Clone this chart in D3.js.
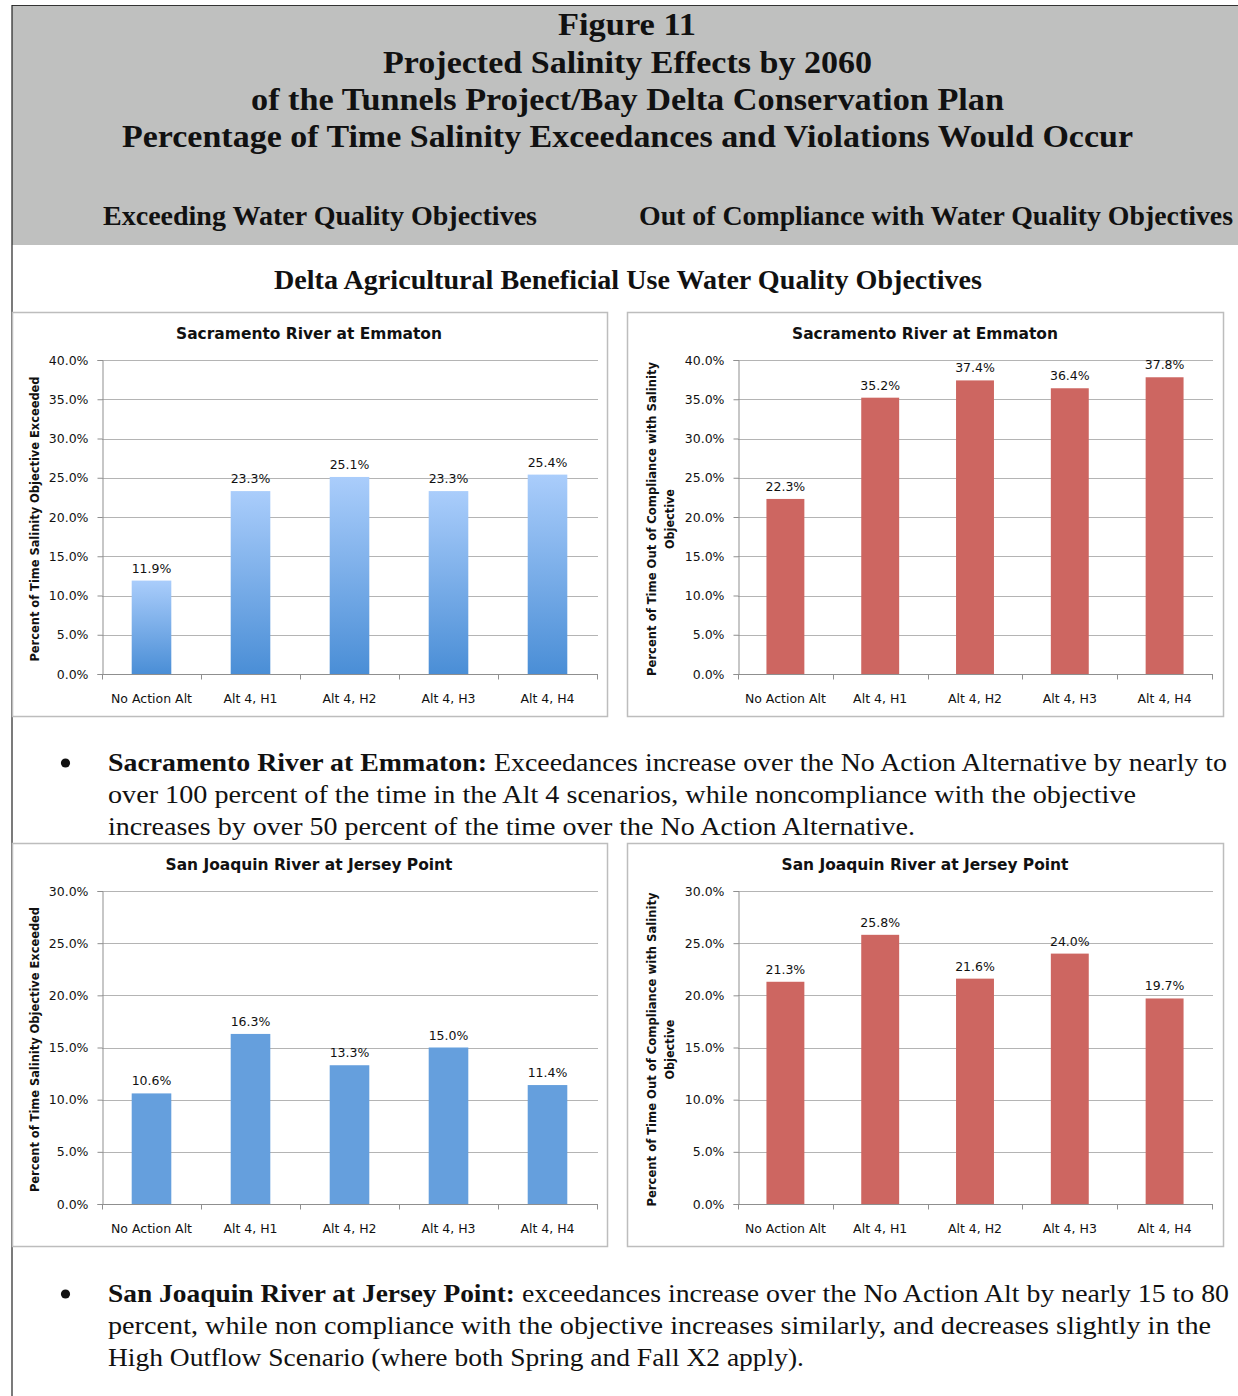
<!DOCTYPE html>
<html>
<head>
<meta charset="utf-8">
<script src="https://cdn.jsdelivr.net/npm/d3@7"></script>
<style>
  html, body { margin: 0; padding: 0; background: #fff; }
  svg { display: block; }
</style>
</head>
<body>
<svg id="chart" width="1238" height="1396"></svg>
<script>
// ---------------- DATA ----------------
const categories = ["No Action Alt", "Alt 4, H1", "Alt 4, H2", "Alt 4, H3", "Alt 4, H4"];
const sacramentoExceed = [11.9, 23.3, 25.1, 23.3, 25.4];
const sacramentoNoncomp = [22.3, 35.2, 37.4, 36.4, 37.8];
const sanJoaquinExceed = [10.6, 16.3, 13.3, 15.0, 11.4];
const sanJoaquinNoncomp = [21.3, 25.8, 21.6, 24.0, 19.7];
const sacramentoTicks = [0, 5, 10, 15, 20, 25, 30, 35, 40];
const sanJoaquinTicks = [0, 5, 10, 15, 20, 25, 30];

const headerLines = [
  "Figure 11",
  "Projected Salinity Effects by 2060",
  "of the Tunnels Project/Bay Delta Conservation Plan",
  "Percentage of Time Salinity Exceedances and Violations Would Occur"
];
const subHeaders = ["Exceeding Water Quality Objectives", "Out of Compliance with Water Quality Objectives"];
const sectionTitle = "Delta Agricultural Beneficial Use Water Quality Objectives";
const bullet1 = {
  bold: "Sacramento River at Emmaton:",
  lines: [
    "Exceedances increase over the No Action Alternative by nearly to",
    "over 100 percent of the time in the Alt 4 scenarios, while noncompliance with the objective",
    "increases by over 50 percent of the time over the No Action Alternative."
  ]
};
const bullet2 = {
  bold: "San Joaquin River at Jersey Point:",
  lines: [
    "exceedances increase over the No Action Alt by nearly 15 to 80",
    "percent, while non compliance with the objective increases similarly, and decreases slightly in the",
    "High Outflow Scenario (where both Spring and Fall X2 apply)."
  ]
};

// ---------------- SETUP ----------------
const svg = d3.select("#chart");
const SERIF = "'Liberation Serif', 'DejaVu Serif', serif";
const SANS = "'DejaVu Sans', 'Liberation Sans', sans-serif";

const defs = svg.append("defs");
const grad = defs.append("linearGradient")
  .attr("id", "blueGrad").attr("x1", 0).attr("y1", 0).attr("x2", 0).attr("y2", 1);
grad.append("stop").attr("offset", "0%").attr("stop-color", "#aacdfb");
grad.append("stop").attr("offset", "100%").attr("stop-color", "#4a8ed6");

function fitText(sel, w) {
  sel.attr("textLength", w).attr("lengthAdjust", "spacingAndGlyphs");
  return sel;
}

// ---------------- HEADER ----------------
svg.append("rect").attr("x", 12).attr("y", 5).attr("width", 1226).attr("height", 240)
  .attr("fill", "#bfc0bf");
svg.append("line").attr("x1", 12).attr("x2", 1238).attr("y1", 5.5).attr("y2", 5.5)
  .attr("stroke", "#333").attr("stroke-width", 1);
// page frame left line
svg.append("line").attr("x1", 12).attr("x2", 12).attr("y1", 5).attr("y2", 1396)
  .attr("stroke", "#222").attr("stroke-width", 1.2);

const headerY = [24, 62, 99, 136];
const headerW = [138, 489, 753, 1011];
const headerX = [627, 627.5, 627.5, 627.5];
headerLines.forEach((t, i) => {
  fitText(svg.append("text")
    .attr("x", headerX[i]).attr("y", headerY[i]).attr("dy", "0.35em")
    .attr("text-anchor", "middle")
    .attr("font-family", SERIF).attr("font-weight", "bold").attr("font-size", 32)
    .attr("fill", "#111").text(t), headerW[i]);
});
const subX = [320, 936], subW = [434, 594];
subHeaders.forEach((t, i) => {
  fitText(svg.append("text")
    .attr("x", subX[i]).attr("y", 216).attr("dy", "0.35em")
    .attr("text-anchor", "middle")
    .attr("font-family", SERIF).attr("font-weight", "bold").attr("font-size", 26.5)
    .attr("fill", "#111").text(t), subW[i]);
});

fitText(svg.append("text")
  .attr("x", 628).attr("y", 280).attr("dy", "0.35em")
  .attr("text-anchor", "middle")
  .attr("font-family", SERIF).attr("font-weight", "bold").attr("font-size", 26.5)
  .attr("fill", "#111").text(sectionTitle), 708);

// ---------------- CHARTS ----------------
function drawChart(cfg) {
  const g = svg.append("g");
  // panel frame
  g.append("rect").attr("x", cfg.box[0] + 0.5).attr("y", cfg.box[1] + 0.5)
    .attr("width", cfg.box[2]).attr("height", cfg.box[3])
    .attr("fill", "#fff").attr("stroke", "#bdbdbd").attr("stroke-width", 1.5);

  const y = d3.scaleLinear().domain([0, d3.max(cfg.ticks)]).range([cfg.bottom, cfg.top]);
  const x = d3.scaleBand().domain(categories).range([cfg.left, cfg.right])
    .paddingInner(0.6).paddingOuter(0.3);

  // gridlines
  g.append("g").selectAll("line").data(cfg.ticks.filter(d => d > 0)).join("line")
    .attr("x1", cfg.left).attr("x2", cfg.right + 1)
    .attr("y1", d => Math.round(y(d)) + 0.5).attr("y2", d => Math.round(y(d)) + 0.5)
    .attr("stroke", "#b4b4b4").attr("stroke-width", 1);

  // y axis
  const yAxis = d3.axisLeft(y).tickValues(cfg.ticks).tickSize(5).tickPadding(9)
    .tickFormat(d => d3.format(".1f")(d) + "%");
  const ya = g.append("g").attr("transform", `translate(${cfg.left + 0.5},0)`).call(yAxis);
  ya.select(".domain").attr("stroke", "#8f8f8f");
  ya.selectAll(".tick line").attr("stroke", "#8f8f8f");
  ya.selectAll(".tick text").attr("font-family", SANS).attr("font-size", 12.5).attr("fill", "#111");

  // bars
  g.append("g").selectAll("rect").data(cfg.values).join("rect")
    .attr("x", (d, i) => x(categories[i]))
    .attr("width", x.bandwidth())
    .attr("y", d => y(d))
    .attr("height", d => y(0) - y(d))
    .attr("fill", cfg.fill);

  // value labels
  g.append("g").selectAll("text").data(cfg.values).join("text")
    .attr("x", (d, i) => x(categories[i]) + x.bandwidth() / 2)
    .attr("y", d => y(d) - 8)
    .attr("text-anchor", "middle")
    .attr("font-family", SANS).attr("font-size", 12.5).attr("fill", "#111")
    .text(d => d3.format(".1f")(d) + "%");

  // x axis
  const xa = g.append("g").attr("transform", `translate(0,${Math.round(cfg.bottom) + 0.5})`);
  xa.append("line").attr("x1", cfg.left).attr("x2", cfg.right + 1)
    .attr("stroke", "#8f8f8f");
  const step = x.step();
  xa.selectAll("line.tk").data(d3.range(categories.length + 1)).join("line")
    .attr("class", "tk")
    .attr("x1", i => Math.round(cfg.left + i * step) + 0.5)
    .attr("x2", i => Math.round(cfg.left + i * step) + 0.5)
    .attr("y1", 0).attr("y2", 5).attr("stroke", "#8f8f8f");
  xa.selectAll("text").data(categories).join("text")
    .attr("x", d => x(d) + x.bandwidth() / 2)
    .attr("y", 24)
    .attr("dy", "0.35em")
    .attr("text-anchor", "middle")
    .attr("font-family", SANS).attr("font-size", 12.5).attr("fill", "#111")
    .text(d => d);

  // chart title
  fitText(g.append("text")
    .attr("x", cfg.titleX).attr("y", cfg.box[1] + 21).attr("dy", "0.35em")
    .attr("text-anchor", "middle")
    .attr("font-family", SANS).attr("font-weight", "bold").attr("font-size", 16.5)
    .attr("fill", "#111").text(cfg.title), cfg.titleW);

  // y axis title
  const cy = (cfg.top + cfg.bottom) / 2 + 2;
  cfg.yTitle.forEach((t, i) => {
    fitText(g.append("text")
      .attr("transform", `translate(${cfg.yTitleX[i]},${cy}) rotate(-90)`)
      .attr("dy", "0.35em")
      .attr("text-anchor", "middle")
      .attr("font-family", SANS).attr("font-weight", "bold").attr("font-size", 13)
      .attr("fill", "#111").text(t), cfg.yTitleW[i]);
  });
}

const leftTitle = ["Percent of Time Salinity Objective Exceeded"];
const rightTitle = ["Percent of Time Out of Compliance with Salinity", "Objective"];

drawChart({
  box: [12, 312, 595, 404], left: 102, right: 597, top: 360, bottom: 674,
  ticks: sacramentoTicks, values: sacramentoExceed, fill: "url(#blueGrad)",
  title: "Sacramento River at Emmaton", titleX: 309, titleW: 266,
  yTitle: leftTitle, yTitleX: [34], yTitleW: [285]
});
drawChart({
  box: [627, 312, 596, 404], left: 738, right: 1212, top: 360, bottom: 674,
  ticks: sacramentoTicks, values: sacramentoNoncomp, fill: "#cd6661",
  title: "Sacramento River at Emmaton", titleX: 925, titleW: 266,
  yTitle: rightTitle, yTitleX: [651, 669], yTitleW: [314, 60]
});
drawChart({
  box: [12, 843, 595, 403], left: 102, right: 597, top: 891, bottom: 1204,
  ticks: sanJoaquinTicks, values: sanJoaquinExceed, fill: "#659fdd",
  title: "San Joaquin River at Jersey Point", titleX: 309, titleW: 287,
  yTitle: leftTitle, yTitleX: [34], yTitleW: [285]
});
drawChart({
  box: [627, 843, 596, 403], left: 738, right: 1212, top: 891, bottom: 1204,
  ticks: sanJoaquinTicks, values: sanJoaquinNoncomp, fill: "#cd6661",
  title: "San Joaquin River at Jersey Point", titleX: 925, titleW: 287,
  yTitle: rightTitle, yTitleX: [651, 669], yTitleW: [314, 60]
});

// ---------------- BULLETS ----------------
function drawBullet(b, y0, boldEnd, restStart, widths) {
  const lh = 32;
  svg.append("circle").attr("cx", 65.5).attr("cy", y0).attr("r", 4.6).attr("fill", "#111");
  fitText(svg.append("text").attr("x", 108).attr("y", y0).attr("dy", "0.33em")
    .attr("font-family", SERIF).attr("font-weight", "bold").attr("font-size", 25.5)
    .attr("fill", "#111").text(b.bold), boldEnd - 108);
  b.lines.forEach((t, i) => {
    const xs = i === 0 ? restStart : 108;
    fitText(svg.append("text").attr("x", xs).attr("y", y0 + i * lh).attr("dy", "0.33em")
      .attr("font-family", SERIF).attr("font-size", 25.5)
      .attr("fill", "#111").text(t), widths[i] - xs);
  });
}
drawBullet(bullet1, 763, 487, 494, [1227, 1136, 915]);
drawBullet(bullet2, 1294, 515, 522, [1229, 1211, 804]);
</script>
</body>
</html>
